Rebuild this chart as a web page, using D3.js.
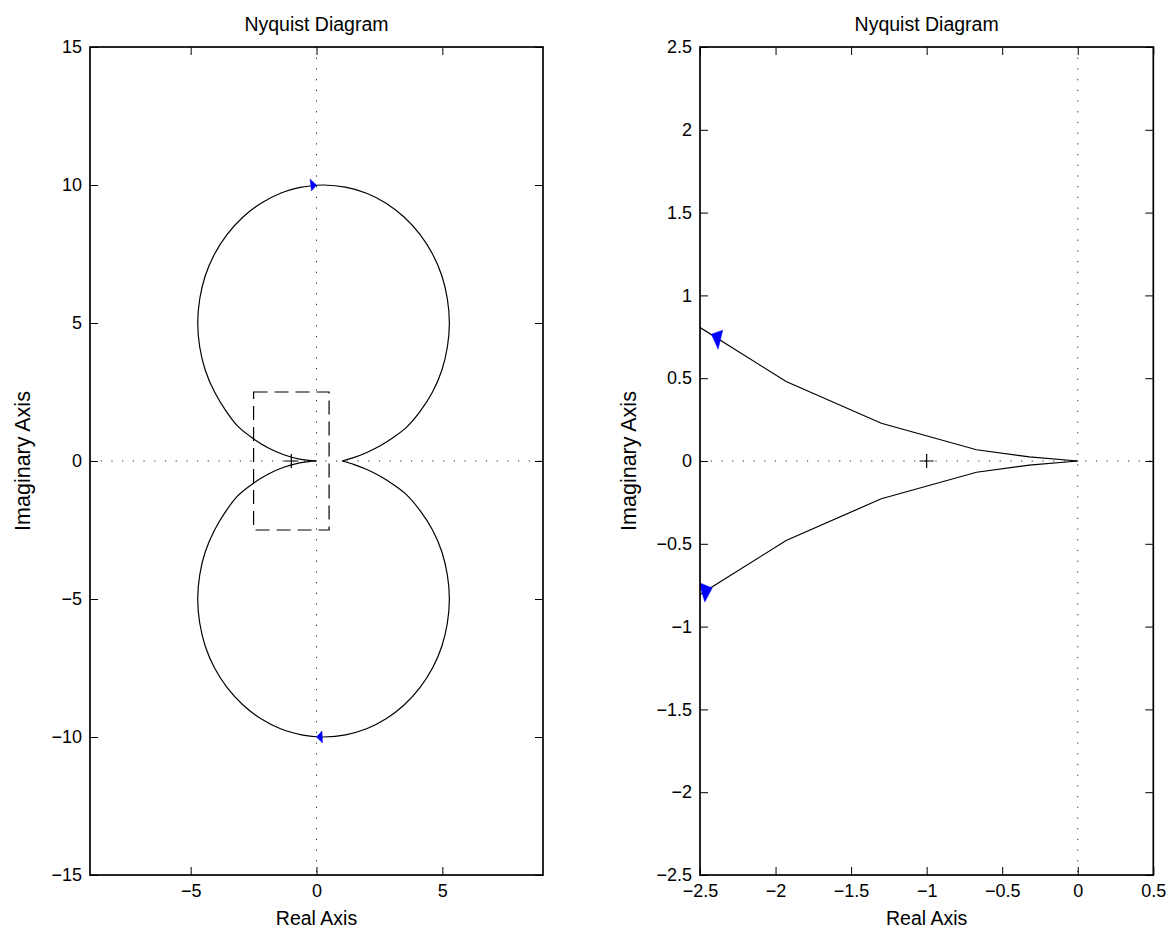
<!DOCTYPE html>
<html>
<head>
<meta charset="utf-8">
<script src="https://cdn.jsdelivr.net/npm/d3@7"></script>
<style>
  body { margin: 0; background: white; }
  text { font-family: "Liberation Sans", Arial, Helvetica, sans-serif; fill: black; }
</style>
</head>
<body>
<div id="chart"></div>
<script>
// Nyquist curve: real part, and imaginary part of both branches
const curveRe = [0, -0.32, -0.67, -1.30, -1.93, -2.56, -3.15, -3.58, -4.05, -4.42, -4.64, -4.72,
  -4.64, -4.42, -4.05, -3.55, -2.93, -2.22, -1.43, -0.59, 0.00, 0.28, 1.15, 1.99, 2.78,
  3.49, 4.11, 4.61, 4.98, 5.20, 5.28, 5.20, 4.98, 4.61, 4.11, 3.55, 3.05, 2.55, 2.00, 1.50, 1.02];
const curveImUpper = [0, 0.025, 0.068, 0.228, 0.480, 0.840, 1.28, 1.79, 2.50, 3.29, 4.13, 5.00,
  5.87, 6.71, 7.50, 8.21, 8.83, 9.33, 9.70, 9.92, 9.99, 10.00, 9.92, 9.70, 9.33,
  8.83, 8.21, 7.50, 6.71, 5.87, 5.00, 4.13, 3.29, 2.50, 1.79, 1.20, 0.85, 0.56, 0.31, 0.13, 0];
const curveImLower = [0, -0.025, -0.068, -0.228, -0.480, -0.840, -1.28, -1.79, -2.50, -3.29, -4.13, -5.00,
  -5.87, -6.71, -7.50, -8.21, -8.83, -9.33, -9.70, -9.92, -9.99, -10.00, -9.92, -9.70, -9.33,
  -8.83, -8.21, -7.50, -6.71, -5.87, -5.00, -4.13, -3.29, -2.50, -1.79, -1.20, -0.85, -0.56, -0.31, -0.13, 0];

// direction arrows (data positions)
const arrowsLeftRe  = [0, 0];
const arrowsLeftIm  = [10, -10];
const arrowsRightRe = [-2.39, -2.467];
const arrowsRightIm = [0.74, -0.782];

// critical point and zoom box
const criticalPoint = [-1, 0];
const zoomBoxRe = [-2.5, 0.5];
const zoomBoxIm = [-2.5, 2.5];

// axes
const leftXDomain  = [-9, 9];
const leftYDomain  = [-15, 15];
const leftXTicks   = [-5, 0, 5];
const leftYTicks   = [-15, -10, -5, 0, 5, 10, 15];
const rightXDomain = [-2.5, 0.5];
const rightYDomain = [-2.5, 2.5];
const rightXTicks  = [-2.5, -2, -1.5, -1, -0.5, 0, 0.5];
const rightYTicks  = [-2.5, -2, -1.5, -1, -0.5, 0, 0.5, 1, 1.5, 2, 2.5];

const title  = "Nyquist Diagram";
const xLabel = "Real Axis";
const yLabel = "Imaginary Axis";

const config = {
  width      : 1173,
  height     : 930,
  tickFont   : "18px",
  labelFont  : "19.5px",
  yLabelFont : "21.5px",
  tickLen    : 8,
};

const svg = d3.select("#chart")
  .append("svg")
    .attr("width", config.width)
    .attr("height", config.height);

const fmt = d => String(d).replace("-", "\u2212");

// arrow shapes in pixels relative to the anchor point
const leftShapes  = [[[0, 0], [-6.5, -6], [-5, 6]], [[0, 0], [5.5, -6], [6, 6]]];
const rightShapes = [[[-5.2, -4.3], [6.1, -8.3], [1.5, 10.7]], [[-6, -8], [7.2, -2.4], [-0.2, 11.6]]];

const panels = [
  { id: "p0", left: 90,  right: 543,    top: 47, bottom: 875,
    xDomain: leftXDomain, yDomain: leftYDomain, xTicks: leftXTicks, yTicks: leftYTicks,
    arrowsRe: arrowsLeftRe, arrowsIm: arrowsLeftIm, shapes: leftShapes, zoomBox: true, ylabX: 30,
    curve: d3.curveCatmullRom.alpha(0.5) },
  { id: "p1", left: 700, right: 1153.3, top: 47, bottom: 875,
    xDomain: rightXDomain, yDomain: rightYDomain, xTicks: rightXTicks, yTicks: rightYTicks,
    arrowsRe: arrowsRightRe, arrowsIm: arrowsRightIm, shapes: rightShapes, zoomBox: false, ylabX: 636,
    curve: d3.curveLinear },
];

panels.forEach(function(p) {
  const x = d3.scaleLinear().domain(p.xDomain).range([p.left, p.right]);
  const y = d3.scaleLinear().domain(p.yDomain).range([p.bottom, p.top]);

  svg.append("clipPath").attr("id", "clip-" + p.id)
    .append("rect")
      .attr("x", p.left).attr("y", p.top)
      .attr("width", p.right - p.left).attr("height", p.bottom - p.top);

  const plot = svg.append("g").attr("clip-path", "url(#clip-" + p.id + ")");

  // dotted zero lines
  plot.append("line")
    .attr("x1", x(0)).attr("x2", x(0)).attr("y1", p.top).attr("y2", p.bottom)
    .attr("stroke", "#222").attr("stroke-width", 1).attr("stroke-dasharray", "1.2,9.5");
  plot.append("line")
    .attr("x1", p.left).attr("x2", p.right).attr("y1", y(0)).attr("y2", y(0))
    .attr("stroke", "#222").attr("stroke-width", 1).attr("stroke-dasharray", "1.2,9.5");

  const line = d3.line().curve(p.curve).x(d => x(d[0])).y(d => y(d[1]));
  [curveImUpper, curveImLower].forEach(function(im) {
    plot.append("path")
      .datum(d3.zip(curveRe, im))
      .attr("d", line)
      .attr("fill", "none")
      .attr("stroke", "black")
      .attr("stroke-width", 1.2);
  });

  // critical point +
  const cx = x(criticalPoint[0]), cy = y(criticalPoint[1]);
  plot.append("path")
    .attr("d", `M${cx - 7},${cy}H${cx + 7}M${cx},${cy - 7}V${cy + 7}`)
    .attr("stroke", "black").attr("stroke-width", 1.2);

  if (p.zoomBox) {
    plot.append("rect")
      .attr("x", x(zoomBoxRe[0])).attr("y", y(zoomBoxIm[1]))
      .attr("width", x(zoomBoxRe[1]) - x(zoomBoxRe[0]))
      .attr("height", y(zoomBoxIm[0]) - y(zoomBoxIm[1]))
      .attr("fill", "none").attr("stroke", "black").attr("stroke-width", 1.2)
      .attr("stroke-dasharray", "14,7");
  }

  // blue direction arrows
  p.arrowsRe.forEach(function(re, i) {
    const ax = x(re), ay = y(p.arrowsIm[i]);
    plot.append("path")
      .attr("d", "M" + p.shapes[i].map(s => (ax + s[0]) + "," + (ay + s[1])).join("L") + "Z")
      .attr("fill", "blue").attr("stroke", "blue").attr("stroke-width", 0.5);
  });

  // axes with inward ticks on all sides
  const styleAxis = function(g) {
    g.select(".domain").remove();
    g.selectAll(".tick line").attr("stroke", "black").attr("stroke-width", 1);
    g.selectAll(".tick text").style("font-size", config.tickFont).attr("fill", "black");
  };
  svg.append("g").attr("transform", `translate(0,${p.bottom})`)
    .call(d3.axisBottom(x).tickValues(p.xTicks).tickSize(-config.tickLen).tickPadding(9).tickFormat(fmt))
    .call(styleAxis);
  svg.append("g").attr("transform", `translate(0,${p.top})`)
    .call(d3.axisTop(x).tickValues(p.xTicks).tickSize(-config.tickLen).tickFormat(""))
    .call(styleAxis);
  svg.append("g").attr("transform", `translate(${p.left},0)`)
    .call(d3.axisLeft(y).tickValues(p.yTicks).tickSize(-config.tickLen).tickPadding(8).tickFormat(fmt))
    .call(styleAxis);
  svg.append("g").attr("transform", `translate(${p.right},0)`)
    .call(d3.axisRight(y).tickValues(p.yTicks).tickSize(-config.tickLen).tickFormat(""))
    .call(styleAxis);

  // frame
  svg.append("rect")
    .attr("x", p.left).attr("y", p.top)
    .attr("width", p.right - p.left).attr("height", p.bottom - p.top)
    .attr("fill", "none").attr("stroke", "black").attr("stroke-width", 1.7);

  const midX = (p.left + p.right) / 2;
  svg.append("text")
    .attr("x", midX).attr("y", 31)
    .attr("text-anchor", "middle").style("font-size", config.labelFont)
    .text(title);
  svg.append("text")
    .attr("x", midX).attr("y", 925)
    .attr("text-anchor", "middle").style("font-size", config.labelFont)
    .text(xLabel);
  svg.append("text")
    .attr("transform", `translate(${p.ylabX},${(p.top + p.bottom) / 2}) rotate(-90)`)
    .attr("text-anchor", "middle").style("font-size", config.yLabelFont)
    .text(yLabel);
});
</script>
</body>
</html>
